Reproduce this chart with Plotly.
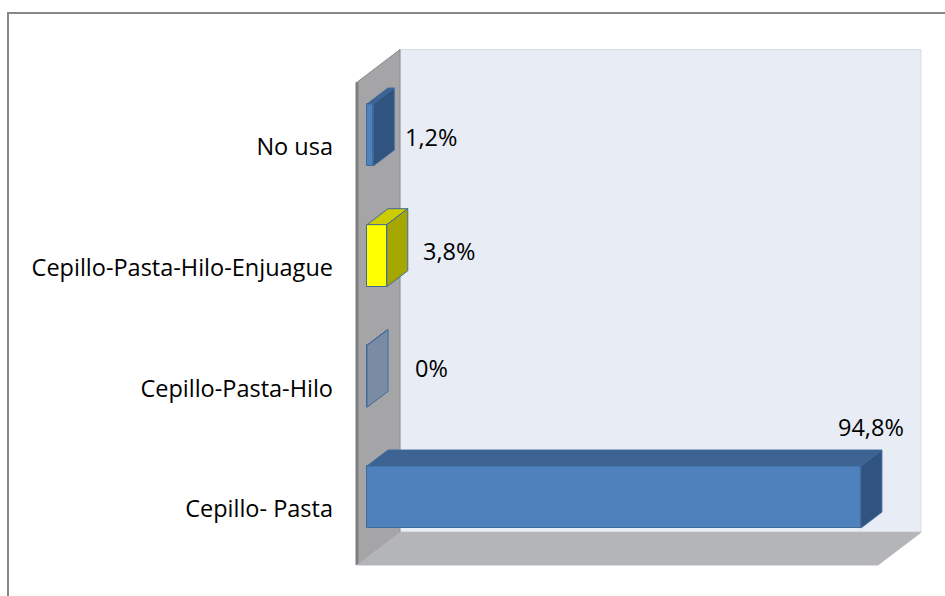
import plotly.graph_objects as go

# Hygiene habits: share of respondents per oral-care combination
categories = ["Cepillo- Pasta", "Cepillo-Pasta-Hilo", "Cepillo-Pasta-Hilo-Enjuague", "No usa"]
values = [94.8, 0.0, 3.8, 1.2]

# Face colours per bar: front, top, side
front_colors = ["#4F81BD", "#4F81BD", "#FFFF00", "#4F81BD"]
top_colors = ["#3C6391", "#3C6391", "#CCCC00", "#3C6391"]
side_colors = ["#30537F", "rgba(70,110,160,0.45)", "#A6A600", "#30537F"]
edge_color = "#3F6A9C"

# Label nudges in pixels (xshift, yshift, anchor)
label_nudge = [(-11, 23, "center"), (25, 8, "left"), (13, 5, "left"), (9, -2, "left")]

FONT = "Open Sans"
W, H = 945, 596
L, R, T, B = 340, 15, 40, 21
xr = [-5.18, 108.06]
yr = [-0.646, 3.787]
kx = (W - L - R) / (xr[1] - xr[0])
ky = (H - T - B) / (yr[1] - yr[0])

AXIS_MAX = 100
BAR_T = 0.514          # bar thickness in category units
FLOOR, CEIL = -0.5, len(categories) - 0.5


def depth(h):
    """Oblique offset (data units) for a depth of h pixels."""
    return h / kx, 0.76 * h / ky


def path(pts):
    return "M " + " L ".join(f"{x:.4f},{y:.4f}" for x, y in pts) + " Z"


fdx, fdy = depth(-10)   # front edge of the box
bdx, bdy = depth(33)    # back wall plane
ddx, ddy = depth(21)    # bar depth

shapes = []
# back wall
shapes.append(dict(type="path", layer="below", xref="x", yref="y",
                   path=path([(0 + bdx, FLOOR + bdy), (AXIS_MAX + bdx, FLOOR + bdy),
                              (AXIS_MAX + bdx, CEIL + bdy), (0 + bdx, CEIL + bdy)]),
                   fillcolor="#E8ECF5", line=dict(color="#D9DCE2", width=1)))
# left wall
shapes.append(dict(type="path", layer="below", xref="x", yref="y",
                   path=path([(fdx, FLOOR + fdy), (fdx, CEIL + fdy),
                              (bdx, CEIL + bdy), (bdx, FLOOR + bdy)]),
                   fillcolor="#A5A5A7", line=dict(color="#8C8C8C", width=1)))
shapes.append(dict(type="line", layer="below", xref="x", yref="y",
                   x0=fdx, y0=FLOOR + fdy, x1=fdx, y1=CEIL + fdy,
                   line=dict(color="#7F7F7F", width=3)))
# floor
shapes.append(dict(type="path", layer="below", xref="x", yref="y",
                   path=path([(fdx, FLOOR + fdy), (AXIS_MAX + fdx, FLOOR + fdy),
                              (AXIS_MAX + bdx, FLOOR + bdy), (bdx, FLOOR + bdy)]),
                   fillcolor="#B3B5B9", line=dict(color="#B3B5B9", width=1)))

# outer chart border (open to the right and bottom)
pw, ph = W - L - R, H - T - B
shapes.append(dict(type="rect", xref="paper", yref="paper",
                   x0=(8 - L) / pw, x1=(W + 20 - L) / pw,
                   y0=(H - B - (H + 20)) / ph, y1=(H - B - 13) / ph,
                   line=dict(color="#878787", width=2), fillcolor="rgba(0,0,0,0)"))

fig = go.Figure()

ypos = list(range(len(categories)))

# front faces
fig.add_trace(go.Bar(
    x=values, y=ypos, orientation="h", width=BAR_T,
    marker=dict(color=front_colors, line=dict(color=edge_color, width=1)),
    hoverinfo="skip", showlegend=False,
))

# top and side faces
for i, v in enumerate(values):
    y0, y1 = i - BAR_T / 2, i + BAR_T / 2
    top = [(0, y1), (v, y1), (v + ddx, y1 + ddy), (ddx, y1 + ddy), (0, y1)]
    side = [(v, y0), (v, y1), (v + ddx, y1 + ddy), (v + ddx, y0 + ddy), (v, y0)]
    for pts, col in ((top, top_colors[i]), (side, side_colors[i])):
        fig.add_trace(go.Scatter(
            x=[p[0] for p in pts], y=[p[1] for p in pts],
            mode="lines", fill="toself", fillcolor=col,
            line=dict(color=edge_color, width=1),
            hoverinfo="skip", showlegend=False,
        ))

# value labels
annotations = []
for i, v in enumerate(values):
    text = ("%g" % v).replace(".", ",") + "%"
    xs, ys, anchor = label_nudge[i]
    if anchor == "center":
        ay = i + BAR_T / 2 + ddy
    else:
        ay = i
    annotations.append(dict(
        x=v + ddx, y=ay, xref="x", yref="y", text=text, showarrow=False,
        xanchor=anchor, yanchor="middle", xshift=xs, yshift=ys,
        font=dict(family=FONT, size=23.5, color="#000000"),
    ))

fig.update_layout(
    width=W, height=H,
    margin=dict(l=L, r=R, t=T, b=B),
    paper_bgcolor="white", plot_bgcolor="rgba(0,0,0,0)",
    shapes=shapes, annotations=annotations,
    xaxis=dict(range=xr, visible=False, fixedrange=True),
    yaxis=dict(range=yr, tickvals=[i - 0.1 for i in ypos], ticktext=categories,
               showgrid=False, zeroline=False, showline=False, ticks="",
               ticklabelstandoff=6,
               tickfont=dict(family=FONT, size=23.5, color="#000000"),
               fixedrange=True),
    bargap=0,
)

fig.write_html("out.html")
